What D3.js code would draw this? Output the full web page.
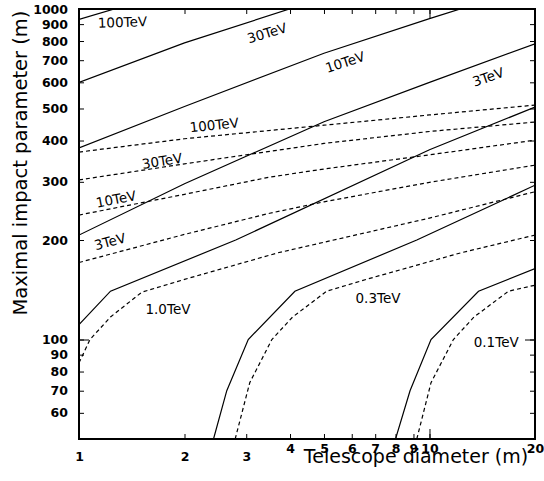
<!DOCTYPE html>
<html>
<head>
<meta charset="utf-8">
<script src="https://cdn.jsdelivr.net/npm/d3@7"></script>
<style>
  body { margin: 0; background: #fff; }
  svg { display: block; }
  .tick text { font-family: "DejaVu Sans", sans-serif; font-weight: bold; font-size: 12.5px; fill: #000; }
  .tick line { stroke: #000; stroke-width: 1; }
</style>
</head>
<body>
<div id="chart"></div>
<script>
// values (x: telescope diameter m, y: impact parameter m)
const xTicks = [1, 2, 3, 4, 5, 6, 7, 8, 9, 10, 20];
const yTicks = [60, 70, 80, 90, 100, 200, 300, 400, 500, 600, 700, 800, 900, 1000];

// solid curves
const solid100 = [[1, 930], [1.3, 1010]];
const solid30 = [[1, 600], [2, 790], [4.1, 1010]];
const solid10 = [[1, 380], [2, 507], [5, 735], [10, 935], [12.6, 1010]];
const solid3 = [[1, 207], [2, 296], [5, 456], [10, 600], [20, 785]];
const solid1 = [[1, 111], [1.23, 140], [2.8, 200], [10, 375], [20, 505]];
const solid03 = [[2.42, 50], [2.64, 70], [3.04, 100], [4.13, 140], [9.2, 200], [20, 293]];
const solid01 = [[8.0, 50], [8.8, 70], [10.1, 100], [13.8, 140], [20, 164]];

// dashed curves
const dashed100 = [[1, 369], [2, 405], [5, 445], [10, 478], [20, 512]];
const dashed30 = [[1, 304], [2, 340], [5, 392], [10, 426], [20, 455]];
const dashed10 = [[1, 238], [2, 275], [3.5, 310], [5, 328], [10, 362], [20, 401]];
const dashed3 = [[1, 171], [2, 208], [3.5, 241], [5, 261], [10, 299], [20, 337]];
const dashed1 = [[1, 85], [1.075, 100], [1.23, 117], [1.51, 139], [2, 152], [3.7, 183], [10, 233], [20, 280]];
const dashed03 = [[2.79, 50], [3.07, 74], [3.55, 100], [4.07, 117], [5.09, 140], [6.6, 152], [12.3, 183], [20, 207]];
const dashed01 = [[9.2, 50], [10.1, 74], [11.7, 100], [13.4, 117], [16.8, 140], [20, 146]];

// curve labels: text, x, y (data units), rotation
const labels = [
  ["100TeV", 1.33, 913, -2],
  ["30TeV", 3.44, 846, -17],
  ["10TeV", 5.74, 691, -18],
  ["3TeV", 14.7, 623, -19],
  ["100TeV", 2.43, 446, -6],
  ["30TeV", 1.725, 347, -9],
  ["10TeV", 1.275, 266, -11],
  ["3TeV", 1.226, 198, -15],
  ["1.0TeV", 1.794, 124, 0],
  ["0.3TeV", 7.13, 133, 0],
  ["0.1TeV", 15.5, 98, 0]
];

const width = 544, height = 481;
const margin = {top: 9, right: 9, bottom: 42, left: 79};
const w = width - margin.left - margin.right;
const h = height - margin.top - margin.bottom;

const svg = d3.select("#chart").append("svg")
  .attr("width", width)
  .attr("height", height);

const g = svg.append("g").attr("transform", `translate(${margin.left},${margin.top})`);

const x = d3.scaleLog().domain([1, 20]).range([0, w]);
const y = d3.scaleLog().domain([50, 1000]).range([h, 0]);

g.append("clipPath").attr("id", "plot")
  .append("rect").attr("width", w).attr("height", h);

const line = d3.line().x(d => x(d[0])).y(d => y(d[1]));

const solids = [solid100, solid30, solid10, solid3, solid1, solid03, solid01];
const dashes = [dashed100, dashed30, dashed10, dashed3, dashed1, dashed03, dashed01];

const curves = g.append("g").attr("clip-path", "url(#plot)");

curves.selectAll(".solid")
  .data(solids)
  .enter().append("path")
  .attr("class", "solid")
  .attr("d", line)
  .attr("fill", "none")
  .attr("stroke", "#000")
  .attr("stroke-width", 1.2);

curves.selectAll(".dashed")
  .data(dashes)
  .enter().append("path")
  .attr("class", "dashed")
  .attr("d", line)
  .attr("fill", "none")
  .attr("stroke", "#000")
  .attr("stroke-width", 1.2)
  .attr("stroke-dasharray", "4,3");

// axes: inward ticks on all four sides
const bottom = g.append("g").attr("transform", `translate(0,${h})`)
  .call(d3.axisBottom(x).tickValues(xTicks).tickSize(-5).tickPadding(13).tickFormat(d3.format("d")));
bottom.selectAll(".tick text").filter(d => d >= 4).attr("y", 5);

g.append("g")
  .call(d3.axisLeft(y).tickValues(yTicks).tickSize(-5).tickPadding(11).tickFormat(d3.format("d")));

g.append("g")
  .call(d3.axisTop(x).tickValues(xTicks).tickSize(-5).tickFormat(""));

g.append("g").attr("transform", `translate(${w},0)`)
  .call(d3.axisRight(y).tickValues(yTicks).tickSize(-5).tickFormat(""));

// longer ticks at the decades
g.append("g").attr("transform", `translate(0,${h})`)
  .call(d3.axisBottom(x).tickValues([10]).tickSize(-10).tickFormat(""));
g.append("g")
  .call(d3.axisTop(x).tickValues([10]).tickSize(-10).tickFormat(""));
g.append("g")
  .call(d3.axisLeft(y).tickValues([100]).tickSize(-10).tickFormat(""));
g.append("g").attr("transform", `translate(${w},0)`)
  .call(d3.axisRight(y).tickValues([100]).tickSize(-10).tickFormat(""));

g.selectAll(".domain").remove();

g.append("rect")
  .attr("width", w)
  .attr("height", h)
  .attr("fill", "none")
  .attr("stroke", "#000")
  .attr("stroke-width", 2);

// curve labels
g.selectAll(".lbl")
  .data(labels)
  .enter().append("text")
  .attr("class", "lbl")
  .attr("transform", d => `translate(${x(d[1])},${y(d[2])}) rotate(${d[3]})`)
  .attr("text-anchor", "middle")
  .attr("dy", "0.36em")
  .style("font-family", "'DejaVu Sans', sans-serif")
  .style("font-size", "13.5px")
  .text(d => d[0]);

// axis titles
svg.append("text")
  .attr("x", 416)
  .attr("y", 463)
  .attr("text-anchor", "middle")
  .style("font-family", "'DejaVu Sans', sans-serif")
  .style("font-size", "19px")
  .text("Telescope diameter (m)");

svg.append("text")
  .attr("transform", "translate(27,163) rotate(-90)")
  .attr("text-anchor", "middle")
  .style("font-family", "'DejaVu Sans', sans-serif")
  .style("font-size", "19.5px")
  .text("Maximal impact parameter (m)");
</script>
</body>
</html>
